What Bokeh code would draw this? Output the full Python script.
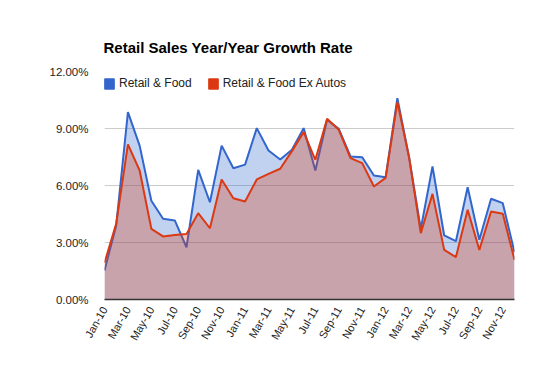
import math
from bokeh.plotting import figure
from bokeh.models import (Range1d, FixedTicker, PrintfTickFormatter, Legend, LegendItem,
                          ColumnDataSource)
from bokeh.embed import file_html
from bokeh.resources import INLINE

months = ["Jan-10", "Feb-10", "Mar-10", "Apr-10", "May-10", "Jun-10", "Jul-10", "Aug-10",
          "Sep-10", "Oct-10", "Nov-10", "Dec-10", "Jan-11", "Feb-11", "Mar-11", "Apr-11",
          "May-11", "Jun-11", "Jul-11", "Aug-11", "Sep-11", "Oct-11", "Nov-11", "Dec-11",
          "Jan-12", "Feb-12", "Mar-12", "Apr-12", "May-12", "Jun-12", "Jul-12", "Aug-12",
          "Sep-12", "Oct-12", "Nov-12", "Dec-12"]

retail_food = [1.53, 3.90, 9.86, 8.10, 5.20, 4.25, 4.16, 2.75, 6.82, 5.12, 8.10, 6.91,
               7.10, 9.02, 7.84, 7.37, 7.88, 9.02, 6.79, 9.46, 8.98, 7.53, 7.49, 6.53,
               6.44, 10.60, 7.49, 3.72, 7.00, 3.37, 3.07, 5.91, 3.14, 5.30, 5.07, 2.49]

retail_food_ex_autos = [1.93, 4.00, 8.16, 6.79, 3.72, 3.32, 3.40, 3.45, 4.54, 3.75, 6.32, 5.33,
                        5.16, 6.32, 6.61, 6.88, 7.81, 8.81, 7.35, 9.51, 8.93, 7.44, 7.18, 5.95,
                        6.40, 10.39, 7.49, 3.49, 5.56, 2.61, 2.23, 4.72, 2.61, 4.63, 4.51, 2.09]

y_ticks = [0, 3, 6, 9, 12]
title = "Retail Sales Year/Year Growth Rate"
series_names = ["Retail & Food", "Retail & Food Ex Autos"]
colors = ["#3366cc", "#dc3912"]

idx = list(range(len(months)))
src = ColumnDataSource(dict(x=idx, a=retail_food, b=retail_food_ex_autos, zero=[0] * len(idx)))

FONT = "Liberation Sans"

p = figure(width=525, height=354, output_backend="svg", toolbar_location=None,
           x_range=Range1d(0, len(months) - 1), y_range=Range1d(0, 12),
           min_border_left=104, min_border_right=11, min_border_top=71, min_border_bottom=55)

p.title.text = title
p.title.text_font = FONT
p.title.text_font_size = "15px"
p.title.text_font_style = "bold"
p.title.text_color = "#000000"
p.title.align = "left"
p.title.offset = -1
p.title.standoff = 32

p.outline_line_color = None
p.background_fill_color = "white"
p.border_fill_color = "white"

# areas and lines
p.varea(x="x", y1="zero", y2="a", source=src, fill_color=colors[0], fill_alpha=0.3)
p.line(x="x", y="a", source=src, line_color=colors[0], line_width=2)
p.varea(x="x", y1="zero", y2="b", source=src, fill_color=colors[1], fill_alpha=0.3)
p.line(x="x", y="b", source=src, line_color=colors[1], line_width=2)

# axes
xa = p.xaxis[0]
xa.ticker = FixedTicker(ticks=idx[::2])
xa.major_label_overrides = {i: months[i] for i in idx[::2]}
xa.major_label_orientation = math.radians(60)
xa.major_tick_line_color = None
xa.minor_tick_line_color = None
xa.major_tick_out = 0
xa.major_tick_in = 0
xa.axis_line_color = "#333333"
xa.axis_line_width = 1.5
xa.major_label_text_font = FONT
xa.major_label_text_font_size = "11px"
xa.major_label_text_color = "#222222"
xa.major_label_standoff = 8

ya = p.yaxis[0]
ya.ticker = FixedTicker(ticks=y_ticks)
ya.formatter = PrintfTickFormatter(format="%.2f%%")
ya.axis_line_color = None
ya.major_tick_line_color = None
ya.minor_tick_line_color = None
ya.major_tick_out = 0
ya.major_tick_in = 0
ya.major_label_text_font = FONT
ya.major_label_text_font_size = "11.5px"
ya.major_label_text_color = "#222222"
ya.major_label_standoff = 16

p.xgrid.grid_line_color = None
p.ygrid.grid_line_color = "#cccccc"
p.ygrid.grid_line_width = 1

# legend proxies (not drawn in the plot: NaN coordinates)
nan = float("nan")
r1 = p.quad(left=[nan], right=[nan], top=[nan], bottom=[nan],
            fill_color=colors[0], line_color=colors[0])
r2 = p.quad(left=[nan], right=[nan], top=[nan], bottom=[nan],
            fill_color=colors[1], line_color=colors[1])
legend = Legend(items=[LegendItem(label=series_names[0], renderers=[r1]),
                       LegendItem(label=series_names[1], renderers=[r2])],
                orientation="horizontal", location=(-1, 209), padding=0, margin=0,
                spacing=15, glyph_width=12, glyph_height=13, label_height=13,
                label_standoff=4, border_line_color=None, background_fill_alpha=0,
                label_text_font=FONT, label_text_font_size="12px", label_text_color="#222222")
p.add_layout(legend)

open("out.html", "w").write(file_html(p, INLINE))
